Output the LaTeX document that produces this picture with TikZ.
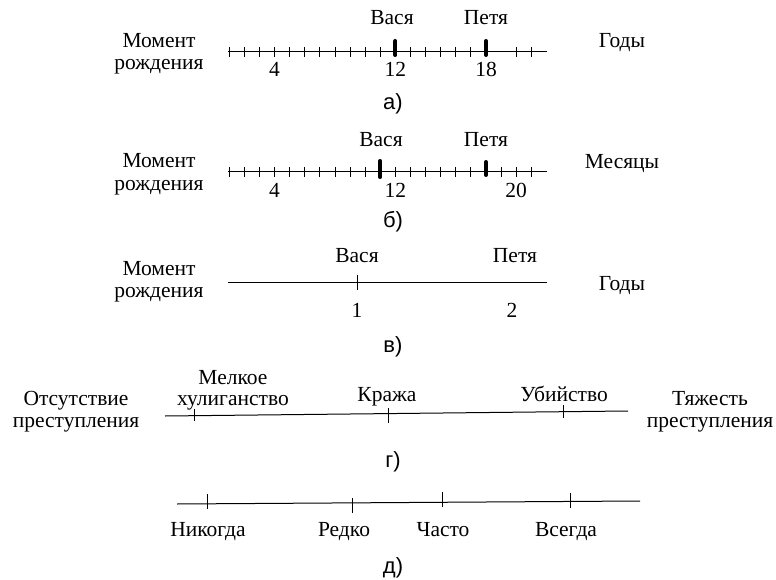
\documentclass[tikz,border=0pt]{standalone}
\usepackage{fontspec}
\setmainfont{Liberation Serif}
\newfontfamily\panelfont{Liberation Sans}

\begin{document}
\begin{tikzpicture}[x=1pt, y=-1pt,
  every node/.style={inner sep=0pt, outer sep=0pt},
  txt/.style={font=\fontsize{21.5}{23}\selectfont, anchor=base},
  panel/.style={font=\panelfont\fontsize{22}{24}\selectfont},
  axis/.style={line width=1pt},
  tickline/.style={line width=1pt},
  bigtick/.style={line width=4pt, line cap=round}]
\useasboundingbox (0,0) rectangle (776,580);

% ---------- a) years, fine scale
\coordinate (a0) at (228,52);
\coordinate (a1) at (547,52);
\draw[axis] (a0) -- (a1);
\foreach \k in {0,...,10,12,13,14,15,16,19,20}
  \draw[tickline] ({229.3+15.1*\k},47) -- ({229.3+15.1*\k},57);
\draw[bigtick] ({229.3+15.1*11},41) -- ({229.3+15.1*11},55);
\draw[bigtick] ({229.3+15.1*17},41) -- ({229.3+15.1*17},55);
\node[txt] (aBirthA) at (159,48) {Момент};
\node[txt] (aBirthB) at (159,70) {рождения};
\node[txt] (aVasya) at (392,25) {Вася};
\node[txt] (aPetya) at (486,25) {Петя};
\node[txt] (a4) at ({229.3+15.1*3},77) {4};
\node[txt] (a12) at ({229.3+15.1*11},77) {12};
\node[txt] (a18) at ({229.3+15.1*17},77) {18};
\node[txt] (aUnit) at (622,48) {Годы};
\node[panel] (aCap) at (393,104) {а)};

% ---------- b) months, fine scale
\coordinate (b0) at (228,172);
\coordinate (b1) at (547,172);
\draw[axis] (b0) -- (b1);
\foreach \k in {0,...,9,11,12,13,14,15,16,18,19,20}
  \draw[tickline] ({229.3+15.1*\k},167) -- ({229.3+15.1*\k},177);
\draw[bigtick] ({229.3+15.1*10},161) -- ({229.3+15.1*10},177);
\draw[bigtick] ({229.3+15.1*17},162) -- ({229.3+15.1*17},175);
\node[txt] (bBirthA) at (159,168) {Момент};
\node[txt] (bBirthB) at (159,190) {рождения};
\node[txt] (bVasya) at (381,147) {Вася};
\node[txt] (bPetya) at (486,147) {Петя};
\node[txt] (b4) at ({229.3+15.1*3},197) {4};
\node[txt] (b12) at ({229.3+15.1*11},197) {12};
\node[txt] (b20) at ({229.3+15.1*19},197) {20};
\node[txt] (bUnit) at (622,169) {Месяцы};
\node[panel] (bCap) at (393,222) {б)};

% ---------- c) years, coarse scale
\coordinate (c0) at (228,282);
\coordinate (c1) at (547,282);
\draw[axis] (c0) -- (c1);
\draw[tickline] (357,275) -- (357,290);
\node[txt] (cBirthA) at (159,275) {Момент};
\node[txt] (cBirthB) at (159,297) {рождения};
\node[txt] (cVasya) at (357,262) {Вася};
\node[txt] (cPetya) at (515,262) {Петя};
\node[txt] (c1lab) at (357,317) {1};
\node[txt] (c2lab) at (512,317) {2};
\node[txt] (cUnit) at (622,290) {Годы};
\node[panel] (cCap) at (393,347) {в)};

% ---------- d) severity of crime
\coordinate (d0) at (165,416);
\coordinate (d1) at (628,411);
\draw[axis] (d0) -- (d1);
\draw[tickline] (194,409) -- (194,421);
\draw[tickline] (388,408) -- (388,423);
\draw[tickline] (563,405) -- (563,418);
\node[txt] (dNoneA) at (76,405) {Отсутствие};
\node[txt] (dNoneB) at (76,427) {преступления};
\node[txt] (dPettyA) at (233,384) {Мелкое};
\node[txt] (dPettyB) at (233,405) {хулиганство};
\node[txt] (dTheft) at (387,401) {Кража};
\node[txt] (dMurder) at (564,401) {Убийство};
\node[txt] (dSevA) at (710,405) {Тяжесть};
\node[txt] (dSevB) at (710,427) {преступления};
\node[panel] (dCap) at (393,462) {г)};

% ---------- e) frequency
\coordinate (e0) at (177,504);
\coordinate (e1) at (640,501);
\draw[axis] (e0) -- (e1);
\draw[tickline] (207,494) -- (207,509);
\draw[tickline] (352,498) -- (352,513);
\draw[tickline] (442,492) -- (442,507);
\draw[tickline] (570,493) -- (570,508);
\node[txt] (eNever) at (208,536) {Никогда};
\node[txt] (eRare) at (344,536) {Редко};
\node[txt] (eOften) at (443,536) {Часто};
\node[txt] (eAlways) at (566,536) {Всегда};
\node[panel] (eCap) at (393,568) {д)};
\end{tikzpicture}
\end{document}
